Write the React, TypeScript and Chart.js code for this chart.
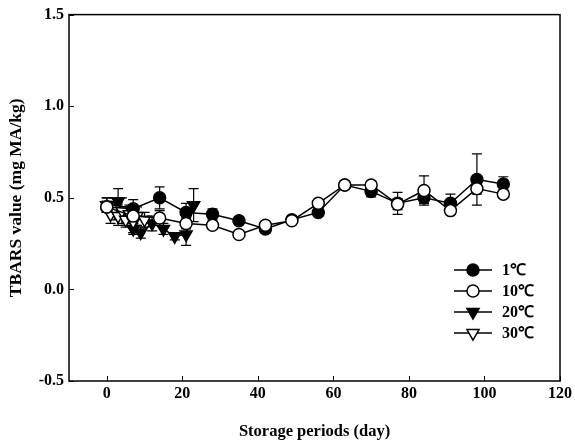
import React, { useEffect, useRef } from "react";
import { Chart, registerables } from "chart.js";

Chart.register(...registerables);

// ---- data ----
const days1 = [0, 7, 14, 21, 28, 35, 42, 49, 56, 63, 70, 77, 84, 91, 98, 105];
const tbars1 = [0.45, 0.44, 0.5, 0.42, 0.41, 0.375, 0.33, 0.38, 0.42, 0.57, 0.535, 0.47, 0.5, 0.47, 0.6, 0.575];
const err1 = [0.03, 0.05, 0.06, 0.05, 0.03, 0.02, 0.02, 0.02, 0.02, 0.02, 0.03, 0.06, 0.03, 0.05, 0.14, 0.04];

const days10 = [0, 7, 14, 21, 28, 35, 42, 49, 56, 63, 70, 77, 84, 91, 98, 105];
const tbars10 = [0.45, 0.4, 0.39, 0.36, 0.35, 0.3, 0.35, 0.375, 0.47, 0.57, 0.57, 0.465, 0.54, 0.43, 0.55, 0.52];
const err10 = [0.03, 0.04, 0.04, 0.03, 0.02, 0.01, 0.02, 0.01, 0.02, 0.01, 0.02, 0.03, 0.08, 0.02, 0.03, 0.02];

const days20 = [0, 3, 5, 7, 9, 12, 15, 18, 21, 23];
const tbars20 = [0.46, 0.48, 0.4, 0.33, 0.31, 0.36, 0.33, 0.29, 0.3, 0.46];
const err20 = [0.04, 0.07, 0.05, 0.03, 0.03, 0.04, 0.03, 0.02, 0.06, 0.09];

const days30 = [0, 1, 2, 3, 4, 5, 6, 7, 8, 10];
const tbars30 = [0.46, 0.41, 0.44, 0.4, 0.43, 0.38, 0.41, 0.37, 0.4, 0.38];
const err30 = [0.04, 0.05, 0.06, 0.05, 0.07, 0.04, 0.05, 0.06, 0.05, 0.04];

const seriesLabels = ["1℃", "10℃", "20℃", "30℃"];
const xTicks = [0, 20, 40, 60, 80, 100, 120];
const yTicks = [-0.5, 0, 0.5, 1.0, 1.5];

const FONT = "'Liberation Serif', 'Times New Roman', serif";

function pts(xs: number[], ys: number[]) {
  return xs.map((x, i) => ({ x, y: ys[i] }));
}

const errs = [err1, err10, err20, err30];

const styles = [
  { pointStyle: "circle", fill: "#000", r: 6, rot: 0 },
  { pointStyle: "circle", fill: "#fff", r: 6, rot: 0 },
  { pointStyle: "triangle", fill: "#000", r: 7, rot: 180 },
  { pointStyle: "triangle", fill: "#fff", r: 7, rot: 180 },
];

function drawMarker(ctx: CanvasRenderingContext2D, idx: number, x: number, y: number) {
  const s = styles[idx];
  ctx.save();
  ctx.fillStyle = s.fill;
  ctx.strokeStyle = "#000";
  ctx.lineWidth = 1.5;
  ctx.beginPath();
  if (s.pointStyle === "circle") {
    ctx.arc(x, y, s.r, 0, Math.PI * 2);
  } else {
    const r = s.r;
    ctx.moveTo(x, y + r);
    ctx.lineTo(x - r * Math.sin(Math.PI / 3), y - r / 2);
    ctx.lineTo(x + r * Math.sin(Math.PI / 3), y - r / 2);
    ctx.closePath();
  }
  ctx.fill();
  ctx.stroke();
  ctx.restore();
}

const framePlugin = {
  id: "framePlugin",
  beforeDatasetsDraw(chart: any) {
    const ctx = chart.ctx as CanvasRenderingContext2D;
    const xs = chart.scales.x;
    const ys = chart.scales.y;
    ctx.save();
    ctx.strokeStyle = "#000";
    ctx.lineWidth = 1.2;
    chart.data.datasets.forEach((ds: any, di: number) => {
      const e = errs[di];
      ds.data.forEach((p: any, i: number) => {
        const px = xs.getPixelForValue(p.x);
        const top = ys.getPixelForValue(p.y + e[i]);
        const bot = ys.getPixelForValue(p.y - e[i]);
        ctx.beginPath();
        ctx.moveTo(px, top);
        ctx.lineTo(px, bot);
        ctx.moveTo(px - 5, top);
        ctx.lineTo(px + 5, top);
        ctx.moveTo(px - 5, bot);
        ctx.lineTo(px + 5, bot);
        ctx.stroke();
      });
    });
    ctx.restore();
  },
  afterDraw(chart: any) {
    const ctx = chart.ctx as CanvasRenderingContext2D;
    const a = chart.chartArea;
    const xs = chart.scales.x;
    const ys = chart.scales.y;
    ctx.save();
    ctx.strokeStyle = "#000";
    ctx.lineWidth = 1.5;
    ctx.strokeRect(a.left, a.top, a.right - a.left, a.bottom - a.top);
    ctx.lineWidth = 1;
    ctx.beginPath();
    xTicks.forEach((v) => {
      const px = Math.round(xs.getPixelForValue(v)) + 0.5;
      ctx.moveTo(px, a.bottom);
      ctx.lineTo(px, a.bottom - 5);
    });
    yTicks.forEach((v) => {
      const py = Math.round(ys.getPixelForValue(v)) + 0.5;
      ctx.moveTo(a.left, py);
      ctx.lineTo(a.left + 5, py);
    });
    ctx.stroke();

    // legend
    const rows = [270, 291, 312, 333];
    ctx.font = `bold 16px ${FONT}`;
    ctx.textBaseline = "middle";
    ctx.textAlign = "left";
    ctx.fillStyle = "#000";
    seriesLabels.forEach((lab, i) => {
      const y = rows[i];
      ctx.lineWidth = 1.5;
      ctx.beginPath();
      ctx.moveTo(454, y);
      ctx.lineTo(492, y);
      ctx.stroke();
      drawMarker(ctx, i, 473, y);
      ctx.fillStyle = "#000";
      ctx.fillText(lab, 502, y + 1);
    });
    ctx.restore();
  },
};

export default function App() {
  const ref = useRef<HTMLCanvasElement | null>(null);
  useEffect(() => {
    if (!ref.current) return;
    const series = [
      pts(days1, tbars1),
      pts(days10, tbars10),
      pts(days20, tbars20),
      pts(days30, tbars30),
    ];
    const orders = [1, 0, 3, 2];
    const chart = new Chart(ref.current, {
      type: "line",
      data: {
        datasets: series.map((d, i) => ({
          label: seriesLabels[i],
          data: d,
          borderColor: "#000",
          borderWidth: 1.5,
          backgroundColor: styles[i].fill,
          pointBackgroundColor: styles[i].fill,
          pointBorderColor: "#000",
          pointBorderWidth: 1.5,
          pointStyle: styles[i].pointStyle as any,
          pointRadius: styles[i].r,
          pointRotation: styles[i].rot,
          tension: 0,
          fill: false,
          order: orders[i],
        })),
      },
      options: {
        responsive: false,
        animation: false,
        layout: { padding: { left: 0, top: 13, right: 12, bottom: 0 } },
        plugins: { legend: { display: false }, tooltip: { enabled: false } },
        scales: {
          x: {
            type: "linear",
            min: -10,
            max: 120,
            grid: { display: false, drawTicks: false },
            border: { display: false },
            afterBuildTicks: (s: any) => {
              s.ticks = xTicks.map((v) => ({ value: v }));
            },
            afterFit: (s: any) => {
              s.height = 65;
            },
            ticks: {
              padding: 3,
              color: "#000",
              font: { family: FONT, size: 16, weight: "bold" },
              maxRotation: 0,
              callback: (v: any) => String(v),
            },
            title: {
              display: true,
              text: "Storage periods (day)",
              color: "#000",
              font: { family: FONT, size: 16.5, weight: "bold" },
              padding: { top: 4, bottom: 4 },
            },
          },
          y: {
            type: "linear",
            min: -0.5,
            max: 1.5,
            grid: { display: false, drawTicks: false },
            border: { display: false },
            afterBuildTicks: (s: any) => {
              s.ticks = yTicks.map((v) => ({ value: v }));
            },
            afterFit: (s: any) => {
              s.width = 69;
            },
            ticks: {
              padding: 5,
              color: "#000",
              font: { family: FONT, size: 16, weight: "bold" },
              callback: (v: any) => Number(v).toFixed(1),
            },
            title: {
              display: true,
              text: "TBARS value (mg MA/kg)",
              color: "#000",
              font: { family: FONT, size: 17.5, weight: "bold" },
              padding: { top: 6, bottom: 4 },
            },
          },
        },
      },
      plugins: [framePlugin],
    } as any);
    return () => chart.destroy();
  }, []);
  return (
    <div style={{ position: "fixed", left: 0, top: 0, width: 575, height: 446, background: "#fff" }}>
      <canvas ref={ref} width={575} height={446} style={{ width: 575, height: 446, display: "block" }} />
    </div>
  );
}
